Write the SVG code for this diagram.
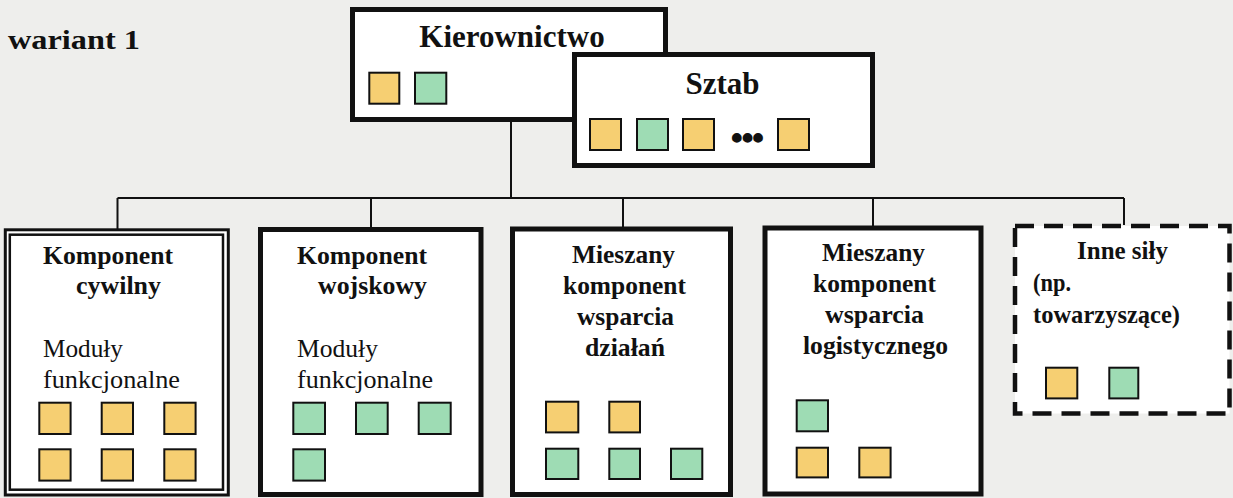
<svg xmlns="http://www.w3.org/2000/svg" width="1233" height="498" viewBox="0 0 1233 498">
<style>
.bg{fill:#eeeeec}
.box{fill:#ffffff;stroke:#111;stroke-width:5}
.dbl{fill:none;stroke:#111}
.dash{fill:#ffffff;stroke:#111;stroke-width:4.5;stroke-dasharray:19 10}
.y{fill:#f6cf72;stroke:#111;stroke-width:2}
.g{fill:#9edcb4;stroke:#111;stroke-width:2}
.conn{fill:none;stroke:#111;stroke-width:2}
.tb{font-family:"Liberation Serif","Times New Roman",serif;font-weight:bold;fill:#111}
.tr{font-family:"Liberation Serif","Times New Roman",serif;fill:#111}
.s{font-size:25px}
</style>
<rect class="bg" x="0" y="0" width="1233" height="498"/>
<text class="tb" x="8" y="49" font-size="28" textLength="132" lengthAdjust="spacingAndGlyphs">wariant  1</text>

<g id="connectors">
<path class="conn" d="M511 121 V198 M117.5 198 H1124 M117.5 198 V229 M371 198 V228 M623 198 V228 M873 198 V227 M1124 198 V225"/>
</g>

<g id="kierownictwo">
<rect class="box" x="352.5" y="9.5" width="313" height="110"/>
<text class="tb" x="512" y="47" font-size="31" text-anchor="middle">Kierownictwo</text>
<rect class="y" x="369.3" y="72.7" width="30" height="31"/>
<rect class="g" x="415" y="72.7" width="31.3" height="31"/>
</g>

<g id="sztab">
<rect class="box" x="574.5" y="54.5" width="298" height="111"/>
<text class="tb" x="722.5" y="94" font-size="31" text-anchor="middle">Sztab</text>
<rect class="y" x="590" y="119" width="31" height="31"/>
<rect class="g" x="637" y="119" width="31" height="31"/>
<rect class="y" x="683" y="119" width="31" height="31"/>
<text class="tb" x="746.5" y="150" font-size="36" text-anchor="middle" letter-spacing="-2">•••</text>
<rect class="y" x="778" y="119" width="31" height="31"/>
</g>

<g id="komponent-cywilny">
<rect x="5.3" y="229.8" width="223" height="265.2" fill="#ffffff"/>
<rect class="dbl" x="5.3" y="229.8" width="223" height="265.2" stroke-width="3"/>
<rect class="dbl" x="9.8" y="234.7" width="213.2" height="255" stroke-width="2.5"/>
<text class="tb s" x="43" y="264" textLength="130" lengthAdjust="spacingAndGlyphs">Komponent</text>
<text class="tb s" x="76" y="294" textLength="85" lengthAdjust="spacingAndGlyphs">cywilny</text>
<text class="tr s" x="43" y="357" textLength="80" lengthAdjust="spacingAndGlyphs">Moduły</text>
<text class="tr s" x="43" y="388" textLength="137" lengthAdjust="spacingAndGlyphs">funkcjonalne</text>
<rect class="y" x="39.3" y="402.7" width="31.3" height="31.3"/>
<rect class="y" x="101.7" y="402.7" width="31.3" height="31.3"/>
<rect class="y" x="164.3" y="402.7" width="31.3" height="31.3"/>
<rect class="y" x="39.3" y="449.3" width="31.3" height="31.3"/>
<rect class="y" x="101.7" y="449.3" width="31.3" height="31.3"/>
<rect class="y" x="164.3" y="449.3" width="31.3" height="31.3"/>
</g>

<g id="komponent-wojskowy">
<rect class="box" x="260.5" y="229.5" width="220.5" height="265" stroke-width="4.5"/>
<text class="tb s" x="297" y="264" textLength="130" lengthAdjust="spacingAndGlyphs">Komponent</text>
<text class="tb s" x="318" y="294" textLength="109" lengthAdjust="spacingAndGlyphs">wojskowy</text>
<text class="tr s" x="297" y="357" textLength="81" lengthAdjust="spacingAndGlyphs">Moduły</text>
<text class="tr s" x="297" y="388" textLength="136" lengthAdjust="spacingAndGlyphs">funkcjonalne</text>
<rect class="g" x="293.3" y="402.7" width="31.7" height="31.3"/>
<rect class="g" x="356" y="402.7" width="31.7" height="31.3"/>
<rect class="g" x="418.7" y="402.7" width="32" height="31.3"/>
<rect class="g" x="293.3" y="449.3" width="31.7" height="31.3"/>
</g>

<g id="mieszany-dzialan">
<rect class="box" x="512.5" y="229" width="218" height="265.5"/>
<text class="tb s" x="572" y="263" textLength="103" lengthAdjust="spacingAndGlyphs">Mieszany</text>
<text class="tb s" x="563" y="294" textLength="123" lengthAdjust="spacingAndGlyphs">komponent</text>
<text class="tb s" x="577" y="325" textLength="97" lengthAdjust="spacingAndGlyphs">wsparcia</text>
<text class="tb s" x="585" y="356" textLength="80" lengthAdjust="spacingAndGlyphs">działań</text>
<rect class="y" x="546" y="401.7" width="32.3" height="30.7"/>
<rect class="y" x="609.3" y="401.7" width="30.7" height="30.7"/>
<rect class="g" x="546" y="448.7" width="32.3" height="30.3"/>
<rect class="g" x="609.3" y="448.7" width="30.7" height="30.3"/>
<rect class="g" x="671" y="448.7" width="31.3" height="30.3"/>
</g>

<g id="mieszany-logistyczny">
<rect class="box" x="765" y="228" width="216" height="266"/>
<text class="tb s" x="822" y="261" textLength="103" lengthAdjust="spacingAndGlyphs">Mieszany</text>
<text class="tb s" x="813" y="292" textLength="123" lengthAdjust="spacingAndGlyphs">komponent</text>
<text class="tb s" x="825" y="323" textLength="99" lengthAdjust="spacingAndGlyphs">wsparcia</text>
<text class="tb s" x="803" y="354" textLength="145" lengthAdjust="spacingAndGlyphs">logistycznego</text>
<rect class="g" x="796.7" y="400.3" width="31.3" height="31"/>
<rect class="y" x="796.7" y="447.7" width="31.3" height="29.7"/>
<rect class="y" x="859.3" y="447.7" width="31.3" height="29.7"/>
</g>

<g id="inne-sily">
<rect class="dash" x="1015" y="226" width="214.5" height="187.5"/>
<text class="tb s" x="1077" y="259" textLength="91" lengthAdjust="spacingAndGlyphs">Inne siły</text>
<text class="tb s" x="1033" y="291" textLength="38" lengthAdjust="spacingAndGlyphs">(np.</text>
<text class="tb s" x="1033" y="323" textLength="147" lengthAdjust="spacingAndGlyphs">towarzyszące)</text>
<rect class="y" x="1046" y="367.7" width="31.3" height="30.7"/>
<rect class="g" x="1109.3" y="367.7" width="29" height="30.7"/>
</g>
</svg>
